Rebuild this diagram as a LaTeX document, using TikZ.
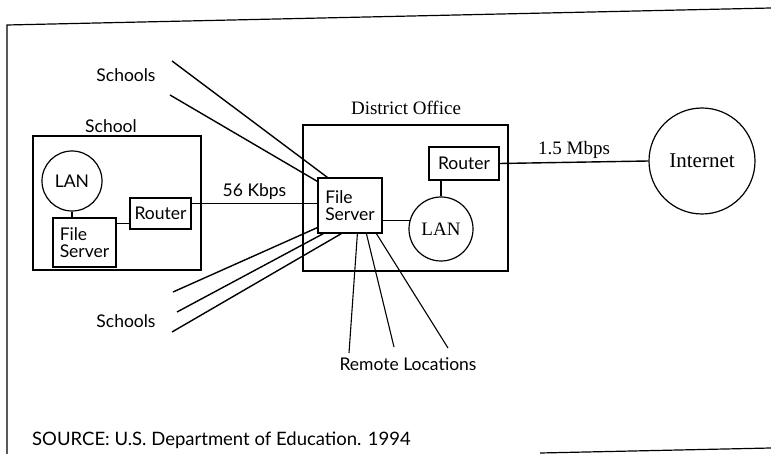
\documentclass[tikz,border=0pt]{standalone}
\usepackage{fontspec}
\setmainfont{Liberation Serif}
\newfontfamily\optima{Lato}
\usetikzlibrary{positioning,calc}

\begin{document}
\begin{tikzpicture}[x=1pt, y=-1pt,
  box/.style={draw, line width=1.3pt, inner sep=0pt},
  unit/.style={draw, line width=1.2pt, align=left, inner sep=2pt, font=\optima\fontsize{17.5}{17}\selectfont},
  hub/.style={draw, line width=1.2pt, circle, inner sep=0pt},
  lbl/.style={inner sep=1pt, font=\optima\fontsize{17.5}{18}\selectfont},
  slbl/.style={inner sep=1pt, font=\fontsize{19}{20}\selectfont},
  link/.style={line width=1.1pt},
  line/.style={line width=1.4pt}
]
\useasboundingbox (0,0) rectangle (771,454);

% frame
\draw[line width=1.2pt] (771,8) -- (7,25) -- (7,454);
\draw[line width=1.2pt] (540,453) -- (771,448);

% school
\node[box, minimum width=168pt, minimum height=134pt] (school) at (117,203) {};
\node[lbl] (schoollbl) at (111,126) {School};
\node[hub, minimum size=60pt, font=\optima\fontsize{17.5}{18}\selectfont] (slan) at (72,181) {LAN};
\node[unit, minimum width=63pt, minimum height=49pt] (sfs) at (84.5,242.5) {File\\Server};
\node[unit, minimum width=61pt, minimum height=31pt] (srouter) at (160.5,213.5) {Router};

% district office
\node[box, minimum width=205pt, minimum height=146pt] (district) at (405.5,198) {};
\node[slbl] (districtlbl) at (406,108) {District Office};
\node[unit, minimum width=64pt, minimum height=55pt] (dfs) at (350,205.5) {File\\Server};
\node[hub, minimum size=64pt, font=\fontsize{19}{20}\selectfont] (dlan) at (441,229) {LAN};
\node[unit, minimum width=70pt, minimum height=33pt] (drouter) at (464,163.5) {Router};

% internet
\node[hub, minimum size=106pt, font=\fontsize{21}{22}\selectfont] (internet) at (702,161) {Internet};

% links inside the boxes
\draw[link] (slan.south) -- (slan.south |- sfs.north);
\draw[link] ([yshift=-10pt]srouter.west) -- ([yshift=-10pt]srouter.west -| sfs.east);
\draw[link] (dlan.165) -- (dlan.165 -| dfs.east);
\draw[link] (dlan.north) -- (dlan.north |- drouter.south);

% wide area links
\draw[line] ([yshift=10pt]srouter.east) -- node[lbl, above=2pt] {56 Kbps} ([yshift=10pt]srouter.east -| dfs.west);
\draw[line] (drouter.east) -- node[slbl, above=2pt] {1.5 Mbps} (internet.west);

% other schools
\coordinate (sa) at (172,61);
\coordinate (sb) at (170,95);
\coordinate (sc) at (173,292);
\coordinate (sd) at (177,312);
\coordinate (se) at (172,332);
\draw[line] (sa) -- ([xshift=10pt]dfs.north west);
\draw[line] (sb) -- ([yshift=-4pt]dfs.north west);
\draw[line] (sc) -- ([yshift=6pt]dfs.south west);
\draw[line] (sd) -- ([xshift=6pt]dfs.south west);
\draw[line] (se) -- ([xshift=24pt]dfs.south west);
\node[lbl] (schoolsup) at (126,75) {Schools};
\node[lbl] (schoolsdn) at (126,321) {Schools};

% remote locations
\coordinate (ra) at (349,353);
\coordinate (rb) at (394,347);
\coordinate (rc) at (448,348);
\draw[link] (ra) -- ([xshift=40pt]dfs.south west);
\draw[link] (rb) -- ([xshift=49pt]dfs.south west);
\draw[link] (rc) -- ([xshift=59pt]dfs.south west);
\node[lbl] (remotelbl) at (408,364) {Remote Locations};

\node[lbl, anchor=west, font=\optima\fontsize{18.5}{19}\selectfont] (source) at (31,440) {SOURCE: U.S. Department of Education. 1994};
\end{tikzpicture}
\end{document}
